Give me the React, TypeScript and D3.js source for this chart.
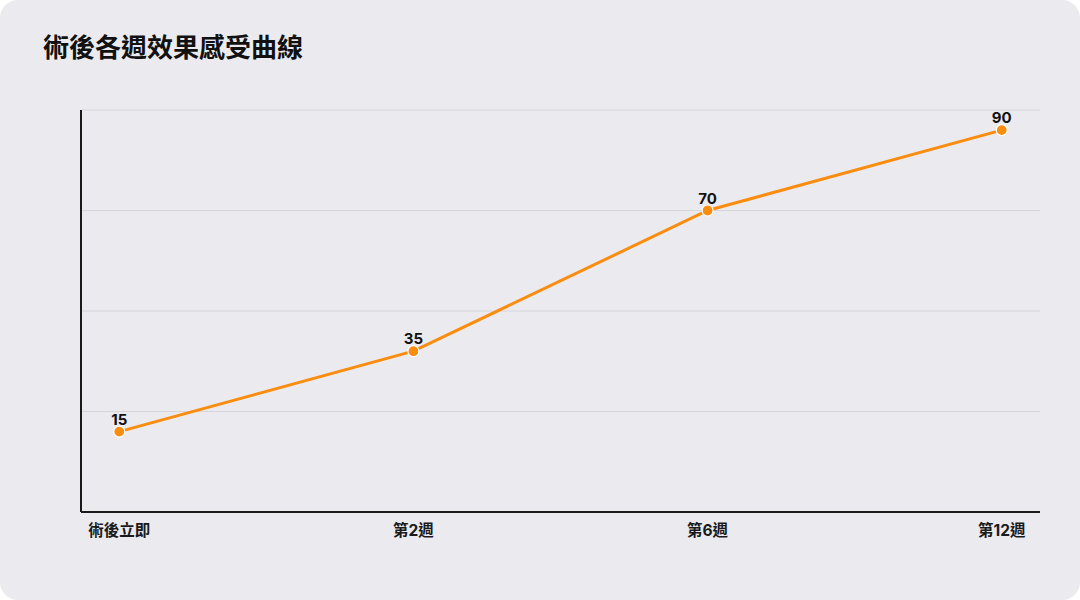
import React, { useEffect, useRef } from 'react';
import * as d3 from 'd3';

const categories = ['術後立即', '第2週', '第6週', '第12週'];
const values = [15, 35, 70, 90];
const gridTicks = [-5, 20, 45, 70, 95];
const title = '術後各週效果感受曲線';

const W = 1080;
const H = 600;
const FONT = 'Inter, "Noto Sans CJK TC", "Noto Sans", sans-serif';

const App: React.FC = () => {
  const svgRef = useRef<SVGSVGElement>(null);

  useEffect(() => {
    if (!svgRef.current) return;
    const svg = d3.select(svgRef.current);
    svg.selectAll('*').remove();

    const margin = { top: 110, right: 40, bottom: 88, left: 81 };
    const chartW = W - margin.left - margin.right;
    const chartH = H - margin.top - margin.bottom;

    // card
    svg.append('rect')
      .attr('width', W).attr('height', H)
      .attr('rx', 18)
      .attr('fill', '#ebebef');

    svg.append('text')
      .attr('x', 43).attr('y', 57)
      .attr('font-family', FONT)
      .attr('font-size', 26)
      .attr('font-weight', 700)
      .attr('fill', '#111')
      .text(title);

    const x = d3.scalePoint<string>()
      .domain(categories)
      .range([0, chartW])
      .padding(0.13);

    const y = d3.scaleLinear()
      .domain([-5, 95])
      .range([chartH, 0]);

    const g = svg.append('g')
      .attr('transform', `translate(${margin.left}, ${margin.top})`);

    // Grid lines
    g.append('g')
      .selectAll('line')
      .data(gridTicks.slice(1))
      .join('line')
      .attr('x1', 0).attr('x2', chartW)
      .attr('y1', d => y(d)).attr('y2', d => y(d))
      .attr('stroke', '#d6d6da')
      .attr('stroke-width', 1);

    // Axes
    g.append('line')
      .attr('x1', 0).attr('x2', 0)
      .attr('y1', 0).attr('y2', chartH)
      .attr('stroke', '#1a1a1a').attr('stroke-width', 2);
    g.append('line')
      .attr('x1', 0).attr('x2', chartW)
      .attr('y1', chartH).attr('y2', chartH)
      .attr('stroke', '#1a1a1a').attr('stroke-width', 2);

    g.append('g')
      .selectAll('text')
      .data(categories)
      .join('text')
      .attr('x', d => x(d) || 0)
      .attr('y', chartH + 24)
      .attr('text-anchor', 'middle')
      .attr('font-family', FONT)
      .attr('font-size', 15.5)
      .attr('font-weight', 700)
      .attr('fill', '#1a1a1a')
      .text(d => d);

    const pts = categories.map((c, i) => ({ c, v: values[i] }));

    const line = d3.line<{ c: string; v: number }>()
      .x(d => x(d.c) || 0)
      .y(d => y(d.v));

    g.append('path')
      .datum(pts)
      .attr('d', line)
      .attr('fill', 'none')
      .attr('stroke', '#fa8c0f')
      .attr('stroke-width', 3);

    g.append('g')
      .selectAll('circle')
      .data(pts)
      .join('circle')
      .attr('cx', d => x(d.c) || 0)
      .attr('cy', d => y(d.v))
      .attr('r', 5.5)
      .attr('fill', '#fa8c0f')
      .attr('stroke', '#ffffff')
      .attr('stroke-width', 1.2);

    g.append('g')
      .selectAll('text')
      .data(pts)
      .join('text')
      .attr('x', d => x(d.c) || 0)
      .attr('y', d => y(d.v) - 7)
      .attr('text-anchor', 'middle')
      .attr('font-family', FONT)
      .attr('font-size', 15)
      .attr('font-weight', 700)
      .attr('fill', '#111')
      .text(d => d.v);
  }, []);

  return (
    <div style={{ position: 'absolute', left: 0, top: 0, width: W, height: H, background: '#fff' }}>
      <svg ref={svgRef} width={W} height={H} viewBox={`0 0 ${W} ${H}`} />
    </div>
  );
};

export default App;
